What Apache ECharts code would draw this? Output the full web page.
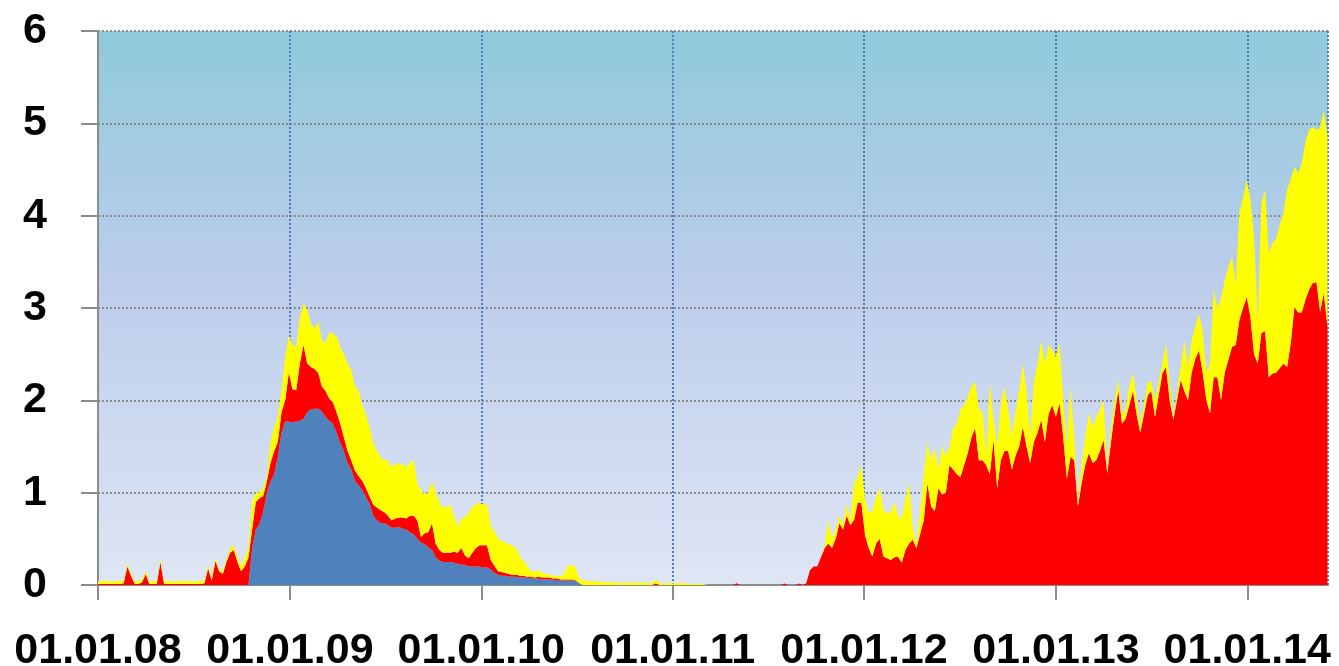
<!DOCTYPE html>
<html>
<head>
<meta charset="utf-8">
<script src="https://cdn.jsdelivr.net/npm/echarts@6/dist/echarts.min.js"></script>
<style>
  html, body { margin: 0; padding: 0; background: #fff; }
  #chart { width: 1339px; height: 666px; }
</style>
</head>
<body>
<div id="chart"></div>
<script>
// weekly samples starting 01.01.2008
const startYear = 2008;
const weekCount = 336;

// y tick labels
const yTicks = [0, 1, 2, 3, 4, 5, 6];

// bottom layer (blue)
const blueValues = [
  0,0,0,0,0,0,0,0,0,0,
  0,0,0,0,0,0,0,0,0,0,
  0,0,0,0,0,0,0,0,0,0,
  0,0,0,0,0,0,0,0,0,0,
  0,0,0.4,0.6,0.66,0.79,1.0,1.12,1.2,1.39,
  1.65,1.77,1.77,1.76,1.77,1.78,1.8,1.87,1.9,1.91,
  1.91,1.88,1.82,1.78,1.75,1.65,1.54,1.45,1.32,1.25,
  1.13,1.08,1.03,0.95,0.88,0.75,0.7,0.67,0.67,0.65,
  0.62,0.62,0.63,0.61,0.6,0.57,0.55,0.5,0.46,0.44,
  0.41,0.38,0.3,0.26,0.25,0.25,0.25,0.24,0.23,0.22,
  0.22,0.2,0.2,0.2,0.2,0.19,0.19,0.17,0.13,0.11,
  0.1,0.1,0.09,0.09,0.09,0.08,0.08,0.08,0.07,0.07,
  0.07,0.06,0.06,0.06,0.06,0.05,0.05,0.05,0.05,0.05,
  0.045,0.02,0,0,0,0,0,0,0,0,
  0,0,0,0,0,0,0,0,0,0, 0,0,0,0,0,0,0,0,0,0,
  0,0,0,0,0,0,0,0,0,0, 0,0,0,0,0,0,0,0,0,0,
  0,0,0,0,0,0,0,0,0,0, 0,0,0,0,0,0,0,0,0,0,
  0,0,0,0,0,0,0,0,0,0, 0,0,0,0,0,0,0,0,0,0,
  0,0,0,0,0,0,0,0,0,0, 0,0,0,0,0,0,0,0,0,0,
  0,0,0,0,0,0,0,0,0,0, 0,0,0,0,0,0,0,0,0,0,
  0,0,0,0,0,0,0,0,0,0, 0,0,0,0,0,0,0,0,0,0,
  0,0,0,0,0,0,0,0,0,0, 0,0,0,0,0,0,0,0,0,0,
  0,0,0,0,0,0,0,0,0,0, 0,0,0,0,0,0,0,0,0,0,
  0,0,0,0,0,0,0,0,0,0, 0,0,0,0,0,0
];

// middle layer (red)
const redValues = [
  0.01,0.01,0.01,0.01,0.01,0.01,0.01,0.02,0.2,0.1,
  0.01,0.01,0.03,0.12,0.01,0.01,0.01,0.25,0.01,0.01,
  0.01,0.01,0.01,0.01,0.01,0.01,0.01,0.01,0.01,0.02,
  0.18,0.05,0.26,0.15,0.12,0.25,0.35,0.38,0.25,0.15,
  0.2,0.3,0.2,0.3,0.28,0.17,0.12,0.2,0.25,0.16,
  0.22,0.23,0.53,0.36,0.34,0.62,0.8,0.53,0.46,0.43,
  0.39,0.27,0.28,0.24,0.23,0.22,0.21,0.15,0.13,0.1,
  0.11,0.1,0.1,0.1,0.08,0.12,0.14,0.14,0.12,0.1,
  0.08,0.1,0.1,0.12,0.12,0.18,0.2,0.2,0.06,0.12,
  0.16,0.29,0.15,0.12,0.1,0.1,0.1,0.12,0.12,0.18,
  0.1,0.09,0.15,0.2,0.23,0.24,0.24,0.1,0.08,0.04,
  0.04,0.03,0.03,0.02,0.02,0.02,0.02,0.01,0.02,0.01,
  0.02,0.02,0.02,0.02,0.01,0.02,0.01,0.01,0.01,0.01,
  0.01,0.005,0,0,0,0,0,0,0,0,
  0,0,0,0,0,0,0,0,0,0,
  0,0,0.02,0,0,0,0,0,0,0,
  0,0,0,0,0,0,0,0,0,0,
  0,0,0,0,0.02,0,0,0,0,0,
  0,0,0,0,0,0,0,0.015,0,0,
  0,0.015,0,0.02,0.16,0.2,0.2,0.3,0.4,0.45,
  0.4,0.5,0.67,0.6,0.75,0.65,0.7,0.89,0.89,0.54,
  0.4,0.31,0.45,0.5,0.31,0.29,0.27,0.3,0.31,0.24,
  0.38,0.45,0.49,0.4,0.55,0.7,1.1,0.85,0.8,1.05,
  0.98,1.0,1.3,1.25,1.2,1.17,1.3,1.43,1.6,1.7,
  1.35,1.35,1.3,1.2,1.57,1.05,1.35,1.45,1.45,1.25,
  1.4,1.5,1.71,1.5,1.32,1.55,1.65,1.79,1.55,1.85,
  1.95,1.82,1.97,1.6,1.15,1.39,1.35,0.85,1.1,1.3,
  1.43,1.32,1.35,1.45,1.57,1.21,1.55,1.85,2.11,1.75,
  1.8,1.95,2.1,1.85,1.65,1.85,2.05,2.1,1.82,2.05,
  2.29,2.36,2.0,1.79,2.0,2.22,2.1,2.0,2.3,2.45,
  2.54,2.3,2.0,1.86,2.25,2.25,2.0,2.3,2.44,2.58,
  2.6,2.87,3.0,3.12,2.9,2.5,2.4,2.73,2.75,2.25,
  2.29,2.3,2.35,2.4,2.36,2.62,3.01,2.95,2.95,3.09,
  3.2,3.27,3.28,2.96,3.16,2.8
];

// top layer (yellow)
const yellowValues = [
  0.03,0.03,0.03,0.03,0.03,0.03,0.03,0.03,0.03,0.03,
  0.03,0.03,0.03,0.03,0.03,0.03,0.03,0.03,0.03,0.03,
  0.03,0.03,0.03,0.03,0.03,0.03,0.03,0.03,0.03,0.03,
  0.03,0.03,0.03,0.03,0.03,0.03,0.04,0.05,0.05,0.05,
  0.1,0.1,0.3,0.1,0.06,0.1,0.05,0.23,0.25,0.27,
  0.23,0.47,0.4,0.48,0.47,0.5,0.45,0.58,0.47,0.44,
  0.55,0.5,0.52,0.72,0.74,0.82,0.83,0.9,0.95,0.98,
  0.91,0.92,0.82,0.8,0.74,0.67,0.61,0.58,0.56,0.6,
  0.58,0.58,0.59,0.57,0.56,0.57,0.6,0.4,0.51,0.42,
  0.43,0.45,0.55,0.52,0.48,0.5,0.52,0.39,0.28,0.32,
  0.42,0.49,0.5,0.47,0.46,0.44,0.44,0.38,0.37,0.35,
  0.34,0.33,0.32,0.31,0.29,0.2,0.16,0.11,0.06,0.06,
  0.07,0.05,0.04,0.03,0.03,0.03,0.03,0.06,0.15,0.15,
  0.145,0.055,0.05,0.045,0.04,0.04,0.035,0.035,0.03,0.03,
  0.03,0.025,0.025,0.025,0.025,0.025,0.025,0.025,0.025,0.025,
  0.025,0.02,0.04,0.02,0.02,0.02,0.02,0.02,0.02,0.02,
  0.02,0.02,0.01,0.01,0.01,0.01,0,0,0,0,
  0,0,0,0,0,0,0,0,0,0,
  0,0,0,0,0,0,0,0,0,0,
  0,0,0,0,0,0,0,0,0.03,0.25,
  0.1,0.1,0.08,0.05,0.13,0.05,0.4,0.28,0.41,0.38,
  0.38,0.49,0.5,0.55,0.5,0.49,0.51,0.6,0.44,0.48,
  0.54,0.65,0.13,0.05,0.25,0.5,0.44,0.5,0.68,0.2,
  0.52,0.4,0.2,0.45,0.55,0.73,0.65,0.61,0.55,0.5,
  0.55,0.53,0.1,1.0,0.23,0.45,0.6,0.7,0.45,0.35,
  0.48,0.6,0.69,0.6,0.28,0.65,0.75,0.86,0.85,0.75,
  0.6,0.65,0.65,0.4,0.35,0.76,0.25,0.03,0.2,0.3,
  0.43,0.39,0.47,0.45,0.43,0.04,0.15,0.15,0.11,0.1,
  0.1,0.2,0.2,0.15,0.1,0.1,0.15,0.1,0.18,0.15,
  0.11,0.26,0.2,0.03,0.1,0.14,0.55,0.36,0.35,0.35,
  0.4,0.45,0.3,0.54,0.95,0.75,1.1,1.0,1.01,0.97,
  0.67,1.16,1.2,1.27,1.27,1.27,0.47,1.41,1.53,1.35,
  1.41,1.45,1.55,1.63,1.92,1.78,1.52,1.51,1.62,1.71,
  1.73,1.69,1.65,1.99,1.98,2.07
];

// week dates
const dates = [];
for (let i = 0; i < weekCount; i++) {
  dates.push(new Date(startYear, 0, 1 + 7 * i).getTime());
}

const DAY = 86400000;

function pad(n) {
  return n < 10 ? "0" + n : "" + n;
}
function fmtDate(v) {
  const d = new Date(v);
  return pad(d.getDate()) + "." + pad(d.getMonth() + 1) + "." + String(d.getFullYear()).slice(2);
}
function pairs(vals) {
  return vals.map((v, i) => [dates[i], v]);
}

const labelFont = {
  fontFamily: "Liberation Sans",
  fontWeight: "bold",
  fontSize: 43,
  color: "#000",
};

function areaSeries(name, vals, color) {
  return {
    name: name,
    type: "line",
    stack: "total",
    data: pairs(vals),
    showSymbol: false,
    lineStyle: { width: 0 },
    areaStyle: { color: color, opacity: 1 },
    color: color,
  };
}

let myChart = echarts.init(document.getElementById("chart"));
myChart.setOption({
  animation: false,
  grid: {
    left: 98,
    right: 11,
    top: 31,
    bottom: 81,
    outerBoundsMode: "none",
    containLabel: false,
    show: true,
    borderWidth: 0,
    backgroundColor: new echarts.graphic.LinearGradient(0, 0, 0, 1, [
      { offset: 0, color: "#8FCADB" },
      { offset: 0.45, color: "#BCCDEB" },
      { offset: 1, color: "#DFE6F4" },
    ]),
  },
  xAxis: {
    type: "time",
    min: new Date(2008, 0, 1).getTime(),
    max: new Date(2014, 5, 4).getTime(),
    minInterval: 365 * DAY,
    maxInterval: 366 * DAY,
    axisLine: {
      lineStyle: { color: "#8C8C8C", width: 2 },
    },
    axisTick: {
      show: true,
      length: 15,
      lineStyle: { color: "#8C8C8C", width: 2 },
    },
    axisLabel: Object.assign({}, labelFont, {
      margin: 45,
      hideOverlap: false,
      showMinLabel: true,
      showMaxLabel: false,
      formatter: fmtDate,
    }),
    splitLine: {
      show: true,
      lineStyle: { color: "#4F7BBD", width: 2, type: [2, 2] },
    },
  },
  yAxis: {
    type: "value",
    min: yTicks[0],
    max: yTicks[yTicks.length - 1],
    interval: 1,
    axisLine: {
      show: true,
      lineStyle: { color: "#8C8C8C", width: 2 },
    },
    axisTick: {
      show: true,
      length: 17,
      lineStyle: { color: "#8C8C8C", width: 2 },
    },
    axisLabel: Object.assign({}, labelFont, { margin: 51 }),
    splitLine: {
      show: true,
      lineStyle: { color: "#8C8C8C", width: 2, type: [2, 2] },
    },
  },
  series: [
    areaSeries("blue", blueValues, "#4F81BD"),
    areaSeries("red", redValues, "#FF0000"),
    areaSeries("yellow", yellowValues, "#FFFF00"),
  ],
});
</script>
</body>
</html>
